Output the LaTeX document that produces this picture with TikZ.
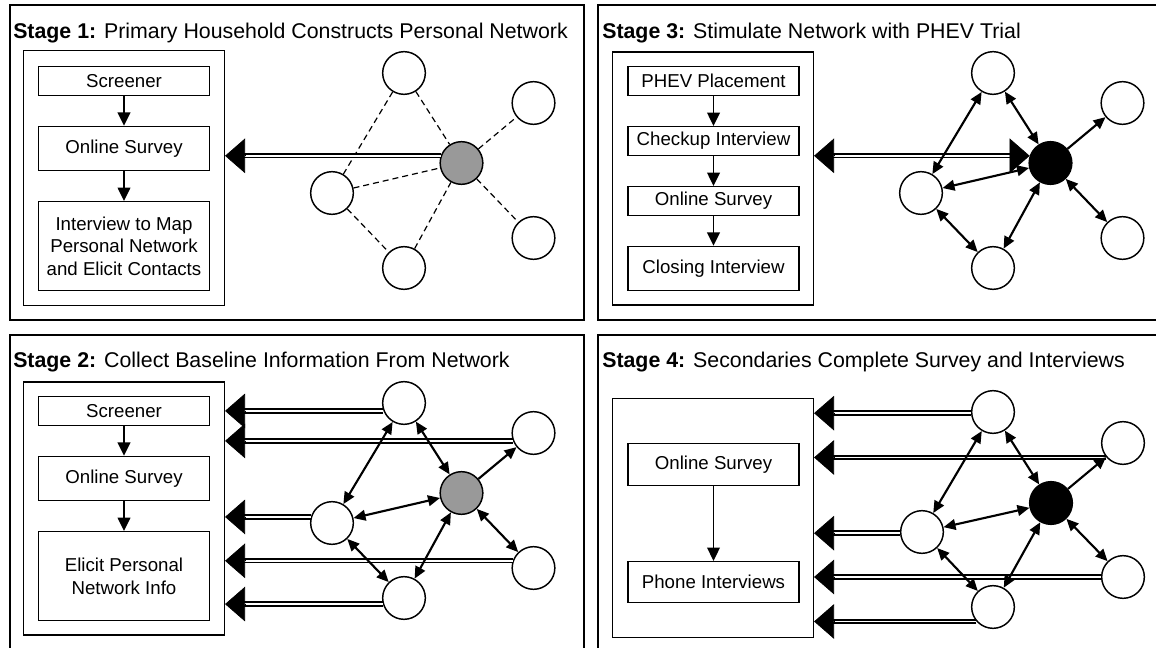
\documentclass[tikz,border=0pt]{standalone}
\usepackage{fontspec}
\setmainfont{Liberation Sans}
\usetikzlibrary{arrows.meta}

\definecolor{hubgray}{RGB}{153,153,153}

\tikzset{
  panel/.style={line width=1.2pt},
  heading/.style={anchor=base west, inner sep=0pt, font=\fontsize{16}{19}\selectfont},
  stagebox/.style={draw, line width=1.1pt, minimum width=150.5pt, inner sep=0pt},
  stepbox/.style={draw, line width=1.1pt, minimum width=128.5pt, align=center, inner sep=0pt},
  person/.style={circle, draw, line width=1.1pt, minimum size=32pt, inner sep=0pt, fill=white},
  hub/.style={person, fill=hubgray},
  hubon/.style={person, fill=black},
  flow/.style={-{Triangle[length=10pt,width=9.5pt]}, line width=1.3pt},
  link/.style={{Triangle[length=9pt,width=8pt]}-{Triangle[length=9pt,width=8pt]}, line width=1.6pt},
  linkto/.style={-{Triangle[length=9pt,width=8pt]}, line width=1.6pt},
  tie/.style={dash pattern=on 4.5pt off 3pt, line width=0.9pt},
  feed/.style={double, double distance=1.2pt, line width=1.4pt, shorten >=14pt},
  feedtip/.style={-{Triangle[length=15pt,width=26pt]}, line width=0.5pt},
}

\begin{document}
\begin{tikzpicture}[x=0.75pt, y=-0.75pt, font=\fontsize{14}{17}\selectfont]
\useasboundingbox (0,0) rectangle (1156,648);

% frames of the four stages
\draw [panel] (10,5) rectangle (584,320);
\draw [panel] (1160,5) -| (598,320) -- (1160,320);
\draw [panel] (10,652) |- (584,335) -- (584,652);
\draw [panel] (1160,335) -| (598,652);

\node [heading] (title1) at (13,38.5) {\textbf{Stage 1:} Primary Household Constructs Personal Network};
\node [heading] (title3) at (602,38.5) {\textbf{Stage 3:} Stimulate Network with PHEV Trial};
\node [heading] (title2) at (13,367.5) {\textbf{Stage 2:} Collect Baseline Information From Network};
\node [heading] (title4) at (602,367.5) {\textbf{Stage 4:} Secondaries Complete Survey and Interviews};

% Stage 1
\node [stagebox, minimum height=191pt] (box1) at (124,178) {};
\node [stepbox, minimum height=21.5pt] (scr1) at (124,81) {Screener};
\node [stepbox, minimum height=33pt] (onl1) at (124,148.5) {Online Survey};
\node [stepbox, minimum height=66.5pt] (map1) at (124,246) {Interview to Map\\Personal Network\\and Elicit Contacts};
\draw [flow] (scr1) -- (onl1);
\draw [flow] (onl1) -- (map1);

\node [person] (t1) at (404,73) {};
\node [person] (u1) at (533.5,103) {};
\node [hub] (c1) at (461.5,163) {};
\node [person] (l1) at (332,193) {};
\node [person] (b1) at (404,268) {};
\node [person] (r1) at (533.5,238) {};
\draw [tie] (t1) -- (l1);
\draw [tie] (t1) -- (c1);
\draw [tie] (l1) -- (c1);
\draw [tie] (l1) -- (b1);
\draw [tie] (b1) -- (c1);
\draw [tie] (c1) -- (u1);
\draw [tie] (c1) -- (r1);
\draw [feed] (c1.161) -- (c1.161 -| box1.east);
\draw [feedtip] ([xshift=15pt]c1.161 -| box1.east) -- (c1.161 -| box1.east);

% Stage 2
\node [stagebox, minimum height=190pt] (box2) at (124,508.5) {};
\node [stepbox, minimum height=21.5pt] (scr2) at (124,411) {Screener};
\node [stepbox, minimum height=33pt] (onl2) at (124,478.5) {Online Survey};
\node [stepbox, minimum height=66.5pt] (eli2) at (124,576) {Elicit Personal\\Network Info};
\draw [flow] (scr2) -- (onl2);
\draw [flow] (onl2) -- (eli2);

\node [person] (t2) at (404,403) {};
\node [person] (u2) at (533.5,433) {};
\node [hub] (c2) at (461.5,493) {};
\node [person] (l2) at (332,523) {};
\node [person] (b2) at (404,598) {};
\node [person] (r2) at (533.5,568) {};
\draw [feed] (t2.201) -- (t2.201 -| box2.east);
\draw [feedtip] ([xshift=15pt]t2.201 -| box2.east) -- (t2.201 -| box2.east);
\draw [feed] (u2.201) -- (u2.201 -| box2.east);
\draw [feedtip] ([xshift=15pt]u2.201 -| box2.east) -- (u2.201 -| box2.east);
\draw [feed] (l2.164) -- (l2.164 -| box2.east);
\draw [feedtip] ([xshift=15pt]l2.164 -| box2.east) -- (l2.164 -| box2.east);
\draw [feed] (r2.161) -- (r2.161 -| box2.east);
\draw [feedtip] ([xshift=15pt]r2.161 -| box2.east) -- (r2.161 -| box2.east);
\draw [feed] (b2.196) -- (b2.196 -| box2.east);
\draw [feedtip] ([xshift=15pt]b2.196 -| box2.east) -- (b2.196 -| box2.east);
\draw [link] (t2) -- (l2);
\draw [link] (t2) -- (c2);
\draw [link] (l2) -- (c2);
\draw [link] (l2) -- (b2);
\draw [link] (b2) -- (c2);
\draw [linkto] (c2) -- (u2);
\draw [link] (c2) -- (r2);

% Stage 3
\node [stagebox, minimum height=190pt] (box3) at (713,178.5) {};
\node [stepbox, minimum height=21.5pt] (plc3) at (713.5,81) {PHEV Placement};
\node [stepbox, minimum height=21.5pt] (chk3) at (713.5,141) {Checkup Interview};
\node [stepbox, minimum height=21.5pt] (onl3) at (713.5,201) {Online Survey};
\node [stepbox, minimum height=33pt] (cls3) at (713.5,268.5) {Closing Interview};
\draw [flow] (plc3) -- (chk3);
\draw [flow] (chk3) -- (onl3);
\draw [flow] (onl3) -- (cls3);

\node [person] (t3) at (993,73) {};
\node [person] (u3) at (1122.5,103) {};
\node [hubon] (c3) at (1050.5,163) {};
\node [person] (l3) at (921,193) {};
\node [person] (b3) at (993,268) {};
\node [person] (r3) at (1122.5,238) {};
\draw [feed, shorten <=14pt] (c3.161) -- (c3.161 -| box3.east);
\draw [feedtip] ([xshift=15pt]c3.161 -| box3.east) -- (c3.161 -| box3.east);
\draw [feedtip] ([xshift=-15pt]c3.161) -- (c3.161);
\draw [link] (t3) -- (l3);
\draw [link] (t3) -- (c3);
\draw [link] (l3) -- (c3);
\draw [link] (l3) -- (b3);
\draw [link] (b3) -- (c3);
\draw [linkto] (c3) -- (u3);
\draw [link] (c3) -- (r3);

% Stage 4
\node [stagebox, minimum height=179pt] (box4) at (713,518) {};
\node [stepbox, minimum height=31.5pt] (onl4) at (713.5,464.5) {Online Survey};
\node [stepbox, minimum height=30.5pt] (phn4) at (713.5,582) {Phone Interviews};
\draw [flow, line width=1.1pt] (onl4) -- (phn4);

\node [person] (t4) at (993,412) {};
\node [person] (u4) at (1123,443) {};
\node [hubon] (c4) at (1051,503) {};
\node [person] (l4) at (922,532) {};
\node [person] (b4) at (993,607) {};
\node [person] (r4) at (1123,577) {};
\draw [feed] (t4.183) -- (t4.183 -| box4.east);
\draw [feedtip] ([xshift=15pt]t4.183 -| box4.east) -- (t4.183 -| box4.east);
\draw [feed] (u4.221) -- (u4.221 -| box4.east);
\draw [feedtip] ([xshift=15pt]u4.221 -| box4.east) -- (u4.221 -| box4.east);
\draw [feed] (l4.183) -- (l4.183 -| box4.east);
\draw [feedtip] ([xshift=15pt]l4.183 -| box4.east) -- (l4.183 -| box4.east);
\draw [feed] (r4.180) -- (r4.180 -| box4.east);
\draw [feedtip] ([xshift=15pt]r4.180 -| box4.east) -- (r4.180 -| box4.east);
\draw [feed] (b4.221) -- (b4.221 -| box4.east);
\draw [feedtip] ([xshift=15pt]b4.221 -| box4.east) -- (b4.221 -| box4.east);
\draw [link] (t4) -- (l4);
\draw [link] (t4) -- (c4);
\draw [link] (l4) -- (c4);
\draw [link] (l4) -- (b4);
\draw [link] (b4) -- (c4);
\draw [linkto] (c4) -- (u4);
\draw [link] (c4) -- (r4);
\end{tikzpicture}
\end{document}
